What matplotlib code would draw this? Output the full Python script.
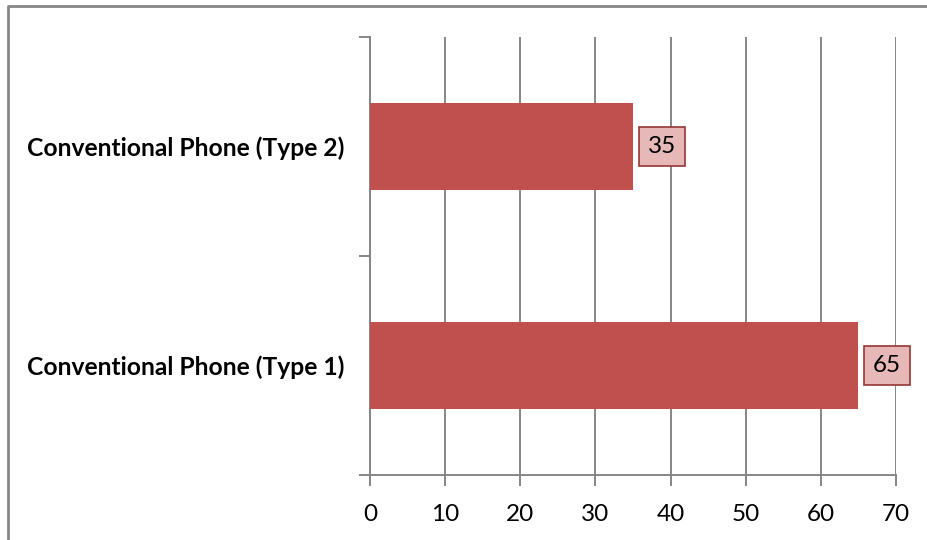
import matplotlib.pyplot as plt
from matplotlib.lines import Line2D
from matplotlib.transforms import offset_copy

plt.rcParams['font.family'] = ['Lato', 'DejaVu Sans']

categories = ['Conventional Phone (Type 1)', 'Conventional Phone (Type 2)']
values = [65, 35]

fig = plt.figure(figsize=(9.28, 5.40), dpi=100)
ax = fig.add_axes([0.3987, 0.1204, 0.5668, 0.8111])

grey = '#868686'
bar_color = '#C0504D'

ax.barh(range(len(values)), values, height=0.4, color=bar_color, zorder=3)

ax.set_xlim(0, 70)
ax.set_ylim(-0.5, len(values) - 0.5)
ax.set_xticks(range(0, 71, 10))
ax.xaxis.grid(True, color=grey, linewidth=1.4, zorder=0)

# category labels sit between the boundary ticks
ax.set_yticks([-0.5, 0.5, 1.5])
ax.set_yticklabels([])
ax.set_yticks(range(len(values)), minor=True)
ax.set_yticklabels(categories, minor=True, fontsize=17.7, fontweight='bold')
ax.tick_params(axis='y', which='minor', length=0, pad=18.5)
ax.tick_params(axis='y', which='major', length=8, width=1.4, color=grey)
ax.tick_params(axis='x', length=8, width=1.4, color=grey, labelsize=17.5, pad=13)

for side in ['top', 'right']:
    ax.spines[side].set_visible(False)
for side in ['left', 'bottom']:
    ax.spines[side].set_color(grey)
    ax.spines[side].set_linewidth(1.4)

# value boxes next to the bar ends
trans = offset_copy(ax.transData, fig=fig, x=10.5, y=0, units='points')
for i, v in enumerate(values):
    ax.text(v, i, str(v), transform=trans, ha='left', va='center', fontsize=17.5,
            bbox=dict(boxstyle='square,pad=0.36', facecolor='#E6B9B8',
                      edgecolor='#953735', linewidth=1.2), zorder=4)

# chart frame (top and left edges)
fig.add_artist(Line2D([8 / 928, 8 / 928, 1.0], [0.0, 1 - 6 / 540, 1 - 6 / 540],
                      transform=fig.transFigure, color=grey, linewidth=2))

fig.savefig('out.png', dpi=100)
